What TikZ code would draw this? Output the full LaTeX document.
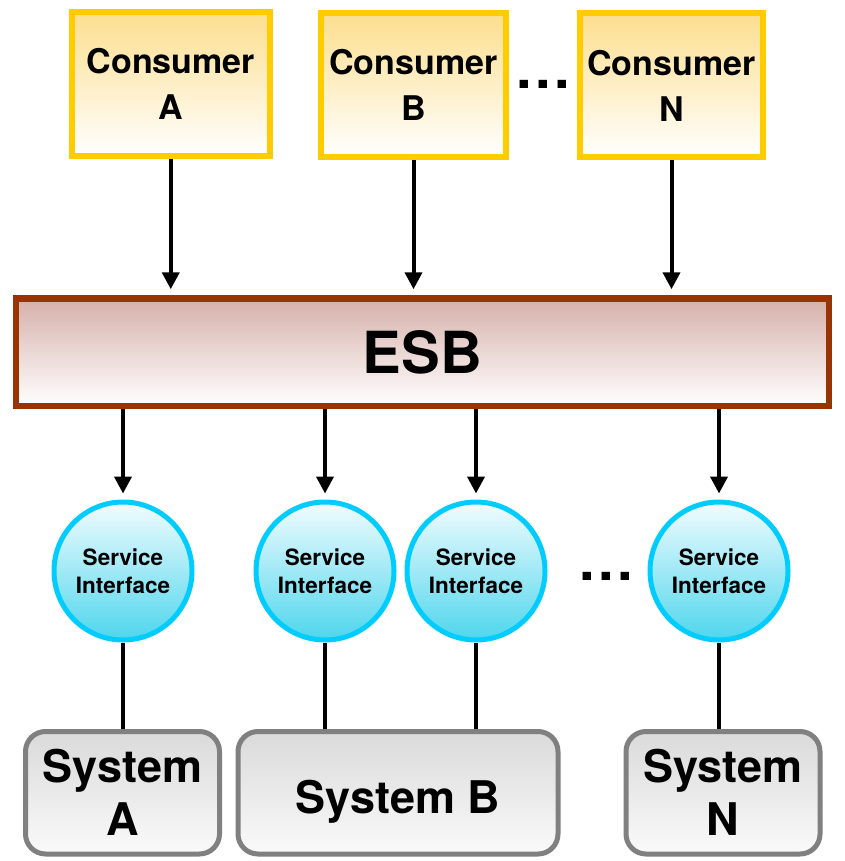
\documentclass[tikz,border=0pt]{standalone}
\usepackage{fontspec}
\setmainfont{TeX Gyre Heros}
\usepackage{xcolor}
\usetikzlibrary{arrows.meta}

\definecolor{consumerline}{RGB}{255,204,0}
\definecolor{consumertop}{RGB}{252,222,142}
\definecolor{esbline}{RGB}{153,51,0}
\definecolor{esbtop}{RGB}{214,176,170}
\definecolor{siline}{RGB}{0,204,255}
\definecolor{sitop}{RGB}{242,252,255}
\definecolor{sibottom}{RGB}{78,214,236}
\definecolor{sysline}{RGB}{128,128,128}
\definecolor{systop}{RGB}{218,218,218}

\begin{document}
\begin{tikzpicture}[x=1pt,y=-1pt,
        consumer/.style={draw=consumerline, line width=6pt, top color=consumertop, bottom color=white,
            minimum height=144pt, align=center, font=\fontsize{34}{46}\selectfont\bfseries},
        bus/.style={draw=esbline, line width=6.5pt, top color=esbtop, bottom color=white,
            minimum width=813pt, minimum height=107.5pt, font=\fontsize{58}{60}\selectfont\bfseries},
        iface/.style={circle, draw=siline, line width=5pt, top color=sitop, bottom color=sibottom,
            minimum size=138pt, inner sep=0pt, align=center, font=\fontsize{22.5}{28}\selectfont\bfseries},
        system/.style={draw=sysline, line width=5pt, rounded corners=20pt, top color=systop, bottom color=white!98!black,
            minimum height=122.5pt, align=center, font=\fontsize{45}{53}\selectfont\bfseries},
        dots/.style={anchor=base, font=\fontsize{56}{56}\selectfont\bfseries},
        arr/.style={line width=4pt, -{Triangle[length=17pt,width=17pt]}, shorten >=6pt},
        link/.style={line width=4pt}]
    \useasboundingbox (0,0) rectangle (844,861);

    % consumers
    \node[consumer, minimum width=198.5pt] (ca) at (170.75,83.75) {Consumer\\A};
    \node[consumer, minimum width=185pt] (cb) at (413.5,85) {Consumer\\B};
    \node[consumer, minimum width=183pt] (cn) at (671.5,85.5) {Consumer\\N};
    \node[dots] (cdots) at (543,89) {.\kern3.4pt.\kern3.4pt.};

    % bus
    \node[bus] (esb) at (422.5,352.25) {ESB};

    % service interfaces
    \node[iface] (si1) at (123,571) {Service\\Interface};
    \node[iface] (si2) at (325,571) {Service\\Interface};
    \node[iface] (si3) at (476,571) {Service\\Interface};
    \node[iface] (si4) at (719,571) {Service\\Interface};
    \node[dots] (sdots) at (606.5,580) {.\kern3.4pt.\kern3.4pt.};

    % systems
    \node[system, minimum width=194pt] (sa) at (122.5,792.75) {System\\A};
    \node[system, minimum width=320pt, text height=41pt, text depth=0pt] (sb) at (398,792.75) {System B};
    \node[system, minimum width=194pt] (sn) at (723,792.75) {System\\N};

    % connectors
    \foreach \c in {ca,cb,cn}
        \draw[arr] (\c.south) -- (\c.south |- esb.north);
    \foreach \s in {si1,si2,si3,si4}
        \draw[arr] (esb.south -| \s.north) -- (\s.north);
    \draw[link] (si1.south) -- (si1.south |- sa.north);
    \draw[link] (si2.south) -- (si2.south |- sb.north);
    \draw[link] (si3.south) -- (si3.south |- sb.north);
    \draw[link] (si4.south) -- (si4.south |- sn.north);
\end{tikzpicture}
\end{document}
